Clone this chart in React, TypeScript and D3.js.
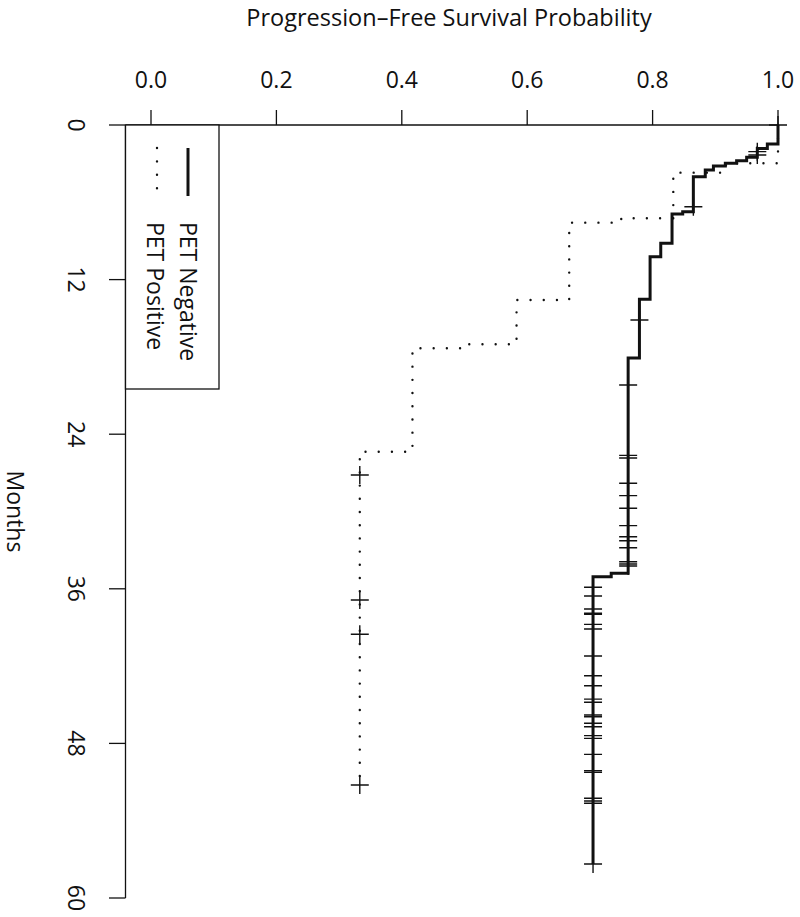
import React, { useEffect, useRef } from 'react';
import * as d3 from 'd3';

// axis ticks
const monthTicks = [0, 12, 24, 36, 48, 60];
const probTicks = [0, 0.2, 0.4, 0.6, 0.8, 1.0];

// PET Negative: event times (months) and survival after each drop
const negTimes = [1.47, 1.82, 2.51, 2.77, 2.97, 3.18, 3.49, 4.01, 6.73, 6.91, 9.18, 10.22, 13.53, 18.09, 34.8, 35.06];
const negSurv = [0.983, 0.967, 0.95, 0.934, 0.916, 0.897, 0.884, 0.865, 0.848, 0.831, 0.813, 0.796, 0.779, 0.761, 0.734, 0.705];
const negCensor = [
  0, 2.07, 2.33, 6.34, 15.14, 20.18, 25.64, 25.85, 27.81, 28.77, 29.75, 31.1, 31.96, 32.27, 32.81,
  33.9, 34.08, 34.23, 35.88, 36.56, 37.57, 37.9, 37.98, 38.76, 39.12, 41.22, 42.75, 43.52, 44.56,
  44.81, 45.8, 45.93, 46.44, 46.71, 47.4, 47.61, 48.85, 50.12, 50.25, 52.26, 52.47, 52.65, 57.36,
];

// PET Positive
const posTimes = [2.97, 3.7, 7.24, 7.58, 13.58, 17.02, 17.33, 25.36];
const posSurv = [0.917, 0.833, 0.75, 0.667, 0.583, 0.5, 0.417, 0.333];
const posCensor = [27.17, 36.87, 39.53, 51.23];

const FONT = '"Open Sans", sans-serif';

export default function App() {
  const svgRef = useRef<SVGSVGElement>(null);

  useEffect(() => {
    if (!svgRef.current) return;
    const svg = d3.select(svgRef.current);
    svg.selectAll('*').remove();

    // rotated KM plot: probability across, months down
    const x = d3.scaleLinear().domain([0, 1]).range([151, 778]);
    const y = d3.scaleLinear().domain([0, 60]).range([125, 898]);

    const survAt = (times: number[], surv: number[], t: number) => {
      let s = 1;
      times.forEach((tt, i) => { if (tt <= t) s = surv[i]; });
      return s;
    };

    const stepLine = d3.line<[number, number]>()
      .x(d => x(d[0]))
      .y(d => y(d[1]))
      .curve(d3.curveStepBefore);

    const buildPts = (times: number[], surv: number[], censor: number[]) => {
      const pts: [number, number][] = [[1, 0]];
      times.forEach((t, i) => pts.push([surv[i], t]));
      const end = Math.max(d3.max(censor) || 0, d3.max(times) || 0);
      pts.push([surv[surv.length - 1], end]);
      return pts;
    };

    // frame lines
    svg.append('line')
      .attr('x1', 125.5).attr('x2', x(1))
      .attr('y1', y(0)).attr('y2', y(0))
      .attr('stroke', '#111').attr('stroke-width', 1.3);
    svg.append('line')
      .attr('x1', 125.5).attr('x2', 125.5)
      .attr('y1', y(0)).attr('y2', y(60))
      .attr('stroke', '#111').attr('stroke-width', 1.3);

    // top axis (probability)
    probTicks.forEach(p => {
      svg.append('line')
        .attr('x1', x(p)).attr('x2', x(p))
        .attr('y1', y(0)).attr('y2', y(0) - 15)
        .attr('stroke', '#111').attr('stroke-width', 1.3);
      svg.append('text')
        .attr('x', x(p)).attr('y', 88)
        .attr('text-anchor', 'middle')
        .attr('font-family', FONT).attr('font-size', 23)
        .attr('fill', '#111')
        .text(p.toFixed(1));
    });

    // left axis (months), labels rotated
    monthTicks.forEach(m => {
      svg.append('line')
        .attr('x1', 125.5).attr('x2', 109)
        .attr('y1', y(m)).attr('y2', y(m))
        .attr('stroke', '#111').attr('stroke-width', 1.3);
      svg.append('text')
        .attr('transform', `translate(68,${y(m)}) rotate(90)`)
        .attr('text-anchor', 'middle')
        .attr('font-family', FONT).attr('font-size', 23)
        .attr('fill', '#111')
        .text(String(m));
    });

    // titles
    svg.append('text')
      .attr('x', 449).attr('y', 26)
      .attr('text-anchor', 'middle')
      .attr('font-family', FONT).attr('font-size', 23.5)
      .attr('fill', '#111')
      .text('Progression\u2013Free Survival Probability');
    svg.append('text')
      .attr('transform', `translate(7,${(y(0) + y(60)) / 2}) rotate(90)`)
      .attr('text-anchor', 'middle')
      .attr('font-family', FONT).attr('font-size', 23)
      .attr('fill', '#111')
      .text('Months');

    // curves
    svg.append('path')
      .attr('d', stepLine(buildPts(posTimes, posSurv, posCensor)))
      .attr('fill', 'none')
      .attr('stroke', '#111')
      .attr('stroke-width', 2.4)
      .attr('stroke-linecap', 'round')
      .attr('stroke-dasharray', '0 13.2');

    svg.append('path')
      .attr('d', stepLine(buildPts(negTimes, negSurv, negCensor)))
      .attr('fill', 'none')
      .attr('stroke', '#111')
      .attr('stroke-width', 3);

    // censor marks
    const drawCensor = (times: number[], surv: number[], censor: number[]) => {
      censor.forEach(t => {
        const cx = x(survAt(times, surv, t));
        const cy = y(t);
        svg.append('path')
          .attr('d', `M${cx - 9},${cy}H${cx + 9}M${cx},${cy - 9}V${cy + 9}`)
          .attr('stroke', '#111')
          .attr('stroke-width', 1.4)
          .attr('fill', 'none');
      });
    };
    drawCensor(negTimes, negSurv, negCensor);
    drawCensor(posTimes, posSurv, posCensor);

    // legend
    const lg = svg.append('g');
    lg.append('rect')
      .attr('x', 125.5).attr('y', 125)
      .attr('width', 93.5).attr('height', 264)
      .attr('fill', 'white')
      .attr('stroke', '#111').attr('stroke-width', 1.3);
    lg.append('line')
      .attr('x1', 188).attr('x2', 188)
      .attr('y1', 148).attr('y2', 196)
      .attr('stroke', '#111').attr('stroke-width', 3);
    lg.append('line')
      .attr('x1', 157).attr('x2', 157)
      .attr('y1', 148).attr('y2', 192)
      .attr('stroke', '#111').attr('stroke-width', 2.4)
      .attr('stroke-linecap', 'round')
      .attr('stroke-dasharray', '0 13.4');
    lg.append('text')
      .attr('transform', 'translate(180,222) rotate(90)')
      .attr('font-family', FONT).attr('font-size', 23)
      .attr('fill', '#111')
      .text('PET Negative');
    lg.append('text')
      .attr('transform', 'translate(147,222) rotate(90)')
      .attr('font-family', FONT).attr('font-size', 23)
      .attr('fill', '#111')
      .text('PET Positive');
  }, []);

  return (
    <div style={{ position: 'absolute', left: 0, top: 0, background: 'white' }}>
      <svg ref={svgRef} width={800} height={917} style={{ display: 'block' }} />
    </div>
  );
}
